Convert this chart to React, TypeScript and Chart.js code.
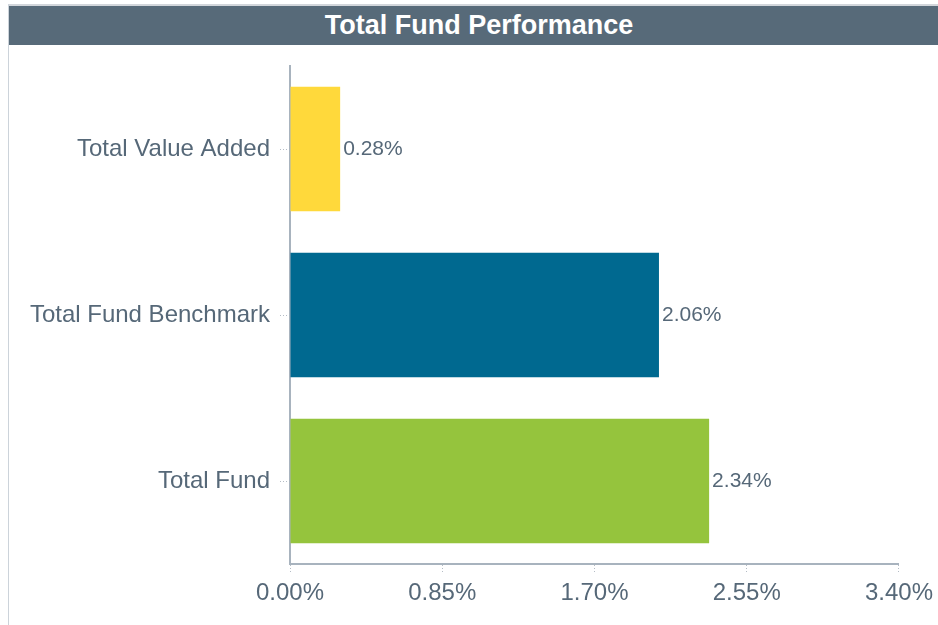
import React, { useEffect, useRef } from "react";
import { Chart, registerables } from "chart.js";

Chart.register(...registerables);

const title = "Total Fund Performance";
const categories = ["Total Value Added", "Total Fund Benchmark", "Total Fund"];
const values = [0.28, 2.06, 2.34];
const barColors = ["#FFD93B", "#006990", "#95C43D"];
const xTicks = [0, 0.85, 1.7, 2.55, 3.4];

const FONT = "'Liberation Sans', Arial, Helvetica, sans-serif";
const TEXT = "#566878";

const valueLabels = {
  id: "valueLabels",
  afterDatasetsDraw(chart: any) {
    const ctx = chart.ctx;
    const meta = chart.getDatasetMeta(0);
    ctx.save();
    ctx.font = `21px ${FONT}`;
    ctx.fillStyle = TEXT;
    ctx.textAlign = "left";
    ctx.textBaseline = "middle";
    meta.data.forEach((bar: any, i: number) => {
      const v = chart.data.datasets[0].data[i] as number;
      ctx.fillText(v.toFixed(2) + "%", bar.x + 3, bar.y);
    });
    ctx.restore();
  },
};

export default function App() {
  const ref = useRef<HTMLCanvasElement>(null);
  useEffect(() => {
    if (!ref.current) return;
    const chart = new Chart(ref.current, {
      type: "bar",
      data: {
        labels: categories,
        datasets: [
          {
            data: values,
            backgroundColor: barColors,
            borderWidth: 0,
            categoryPercentage: 1,
            barPercentage: 0.75,
          },
        ],
      },
      options: {
        indexAxis: "y",
        animation: false,
        responsive: false,
        maintainAspectRatio: false,
        layout: { padding: { top: 21, right: 39, left: 0, bottom: 0 } },
        plugins: {
          legend: { display: false },
          tooltip: { enabled: false },
          title: { display: false },
        },
        scales: {
          x: {
            type: "linear",
            min: 0,
            max: 3.4,
            afterBuildTicks: (scale: any) => {
              scale.ticks = xTicks.map((v) => ({ value: v }));
            },
            afterFit: (scale: any) => {
              scale.height = 61;
            },
            ticks: {
              font: { family: FONT, size: 24 },
              color: TEXT,
              padding: 5,
              maxRotation: 0,
              callback: (v: any) => Number(v).toFixed(2) + "%",
            },
            grid: {
              display: true,
              drawOnChartArea: false,
              drawTicks: true,
              tickLength: 10,
              tickColor: "#b4bcc5",
              tickWidth: 1,
              tickBorderDash: [1, 2],
            },
            border: { display: true, color: "#a8b3be", width: 2 },
          },
          y: {
            type: "category",
            afterFit: (scale: any) => {
              scale.width = 281;
              scale.paddingTop = 0;
              scale.paddingBottom = 0;
            },
            ticks: {
              font: { family: FONT, size: 24 },
              color: TEXT,
              padding: 10,
            },
            grid: {
              display: true,
              offset: false,
              drawOnChartArea: false,
              drawTicks: true,
              tickLength: 10,
              tickColor: "#b4bcc5",
              tickWidth: 1,
              tickBorderDash: [1, 2],
            },
            border: { display: true, color: "#a8b3be", width: 2 },
          },
        },
      },
      plugins: [valueLabels],
    });
    return () => chart.destroy();
  }, []);

  return (
    <div
      style={{
        position: "absolute",
        left: 8,
        top: 4,
        width: 929,
        height: 621,
        borderTop: "2px solid #d2d6db",
        borderLeft: "1px solid #ccd3da",
        overflow: "hidden",
        background: "#fff",
      }}
    >
      <div
        style={{
          height: 39,
          lineHeight: "38px",
          background: "#576A79",
          color: "#fff",
          fontFamily: FONT,
          fontWeight: "bold",
          fontSize: 27,
          textAlign: "center",
          paddingLeft: 11,
          boxSizing: "border-box",
          whiteSpace: "nowrap",
        }}
      >
        {title}
      </div>
      <canvas
        ref={ref}
        width={929}
        height={580}
        style={{ display: "block", width: 929, height: 580 }}
      />
    </div>
  );
}
